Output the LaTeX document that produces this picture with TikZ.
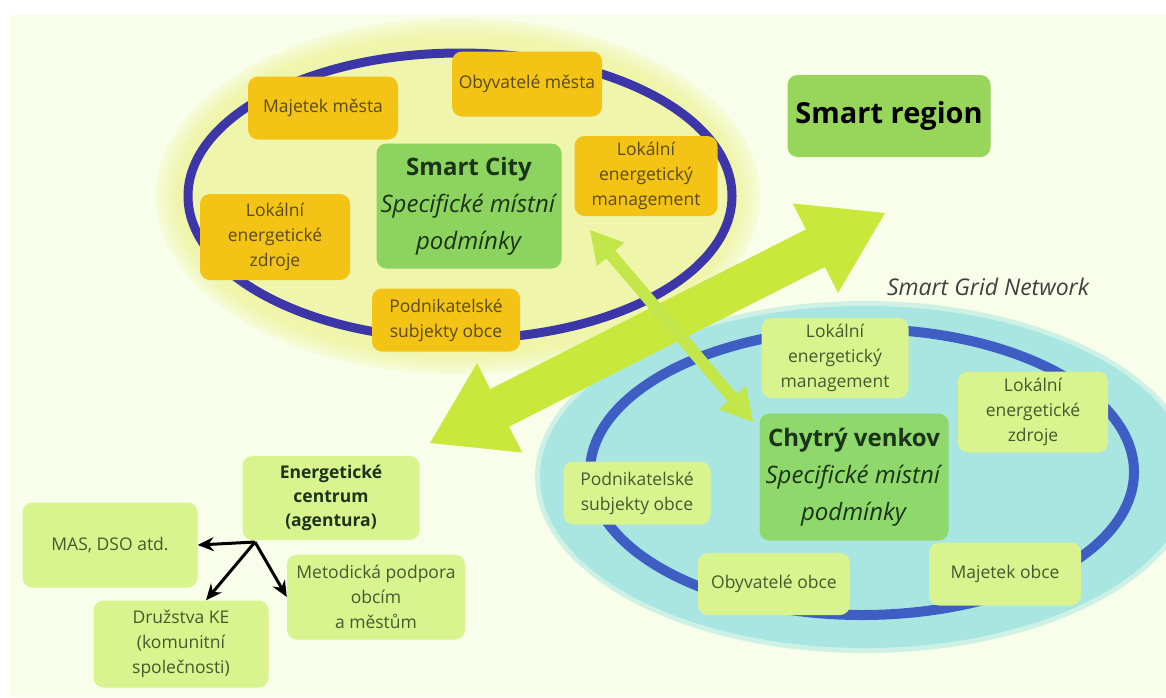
\documentclass[tikz,border=0pt]{standalone}
\usepackage{fontspec}
\setmainfont{Open Sans}
\usetikzlibrary{arrows.meta}

\definecolor{bgcream}{HTML}{F8FEEA}
\definecolor{cityfill}{HTML}{EFF5AA}
\definecolor{cityring}{HTML}{3D36A8}
\definecolor{ruralfill}{HTML}{A9E6E2}
\definecolor{ruralring}{HTML}{3E5EC4}
\definecolor{gold}{HTML}{F3C316}
\definecolor{goldtext}{HTML}{5A4A1E}
\definecolor{citygreen}{HTML}{8DD35F}
\definecolor{regiongreen}{HTML}{97D65B}
\definecolor{ruralgreen}{HTML}{8ED86C}
\definecolor{palelime}{HTML}{D9F38E}
\definecolor{limetext}{HTML}{48582F}
\definecolor{darkgreen}{HTML}{1B3318}
\definecolor{biglime}{HTML}{C9E83C}
\definecolor{smalllime}{HTML}{C3E74A}

\tikzset{
  box/.style={rounded corners=10pt, inner sep=0pt, align=center,
    font=\fontsize{17.5}{25}\selectfont},
  citybox/.style={box, fill=gold, text=goldtext},
  limebox/.style={box, fill=palelime, text=limetext},
  titlebox/.style={box, text=darkgreen, font=\fontsize{24}{37}\selectfont},
  bigarrow/.style={line width=42pt, draw=biglime,
    {Triangle[length=78pt,width=100pt,line width=1pt]}-{Triangle[length=78pt,width=100pt,line width=1pt]}},
  smallarrow/.style={line width=12pt, draw=smalllime,
    {Triangle[length=32pt,width=36pt,line width=1pt]}-{Triangle[length=32pt,width=36pt,line width=1pt]}},
  blackarrow/.style={line width=3pt, -{Stealth[length=16pt,width=14pt]}}
}

\begin{document}
\begin{tikzpicture}[x=1pt,y=-1pt]
  \useasboundingbox (0,0) rectangle (1166,697);
  \fill[white] (0,0) rectangle (1166,697);
  \fill[bgcream] (10,15) rectangle (1166,697);

  \def\cityx{458}% city centre x
  \def\cityy{196}% city centre y
  \def\vilx{862}% village centre x
  \def\vily{472}% village centre y

  % Smart City ellipse, soft edge
  \foreach \k in {0,...,5} {
    \pgfmathsetmacro\mixpct{int(35+13*\k)}
    \fill[cityfill!\mixpct!bgcream] (\cityx,\cityy)
      ellipse [x radius={302pt-4pt*\k}, y radius={178pt-3.5pt*\k}];
  }
  \draw[cityring, line width=9pt] (\cityx+2,\cityy) ellipse [x radius=272pt, y radius=143pt];

  % Chytry venkov ellipse
  \fill[ruralfill!55!bgcream] (\vilx+3,\vily+5) ellipse [x radius=330pt, y radius=176pt];
  \fill[ruralfill] (\vilx+3,\vily+5) ellipse [x radius=325pt, y radius=171pt];
  \draw[ruralring, line width=10pt] (\vilx,\vily) ellipse [x radius=272pt, y radius=143pt];

  % arrows between the levels
  \coordinate (bigS) at (430,443);
  \coordinate (bigE) at (885,213);
  \coordinate (smallA) at (590,230);
  \coordinate (smallB) at (753,422);
  \draw[bigarrow] (bigS) -- (bigE);
  \draw[smallarrow] (smallA) -- (smallB);

  % city
  \node[titlebox, fill=citygreen, minimum width=185pt, minimum height=125pt] (city) at (469,206)
    {\textbf{Smart City}\\\textit{Specifické místní}\\\textit{podmínky}};
  \node[citybox, minimum width=150pt, minimum height=63pt] (majm) at (323,108) {Majetek města};
  \node[citybox, minimum width=150pt, minimum height=65pt] (obym) at (527,84) {Obyvatelé města};
  \node[citybox, minimum width=150pt, minimum height=86pt] (lezm) at (275,237) {Lokální\\energetické\\zdroje};
  \node[citybox, minimum width=148pt, minimum height=63pt] (podm) at (446,320) {Podnikatelské\\subjekty obce};
  \node[citybox, minimum width=143pt, minimum height=80pt] (lemm) at (646,176) {Lokální\\energetický\\management};

  % region
  \node[box, fill=regiongreen, text=black, font=\fontsize{29}{35}\selectfont\bfseries,
    minimum width=203pt, minimum height=82pt] (region) at (889,116) {Smart region};
  \node[inner sep=0pt, text=black!75, font=\fontsize{23}{28}\selectfont\itshape] (grid) at (988,287) {Smart Grid Network};

  % village
  \node[titlebox, fill=ruralgreen, minimum width=189pt, minimum height=127pt] (village) at (854,477)
    {\textbf{Chytrý venkov}\\\textit{Specifické místní}\\\textit{podmínky}};
  \node[limebox, minimum width=147pt, minimum height=80pt] (lemv) at (835,358) {Lokální\\energetický\\management};
  \node[limebox, minimum width=150pt, minimum height=81pt] (lezv) at (1033,412) {Lokální\\energetické\\zdroje};
  \node[limebox, minimum width=147pt, minimum height=63pt] (podv) at (637,493) {Podnikatelské\\subjekty obce};
  \node[limebox, minimum width=152pt, minimum height=62pt] (obyv) at (774,584) {Obyvatelé obce};
  \node[limebox, minimum width=152pt, minimum height=63pt] (majv) at (1005,574) {Majetek obce};

  % energy centre
  \node[limebox, text=darkgreen, font=\fontsize{17.5}{24}\selectfont\bfseries,
    minimum width=177pt, minimum height=84pt] (centre) at (331,498) {Energetické\\centrum\\(agentura)};
  \node[limebox, minimum width=175pt, minimum height=85pt] (mas) at (110,545) {MAS, DSO atd.};
  \node[limebox, minimum width=175pt, minimum height=87pt] (druz) at (181,644) {Družstva KE\\(komunitní\\společnosti)};
  \node[limebox, minimum width=178pt, minimum height=85pt] (met) at (376,597) {Metodická podpora\\obcím\\a městům};

  \coordinate (hub) at (255,542);
  \draw[blackarrow] (hub) -- (mas.east);
  \draw[blackarrow] (hub) -- ([xshift=25pt]druz.north);
  \draw[blackarrow] (hub) -- (met.west);
\end{tikzpicture}
\end{document}
